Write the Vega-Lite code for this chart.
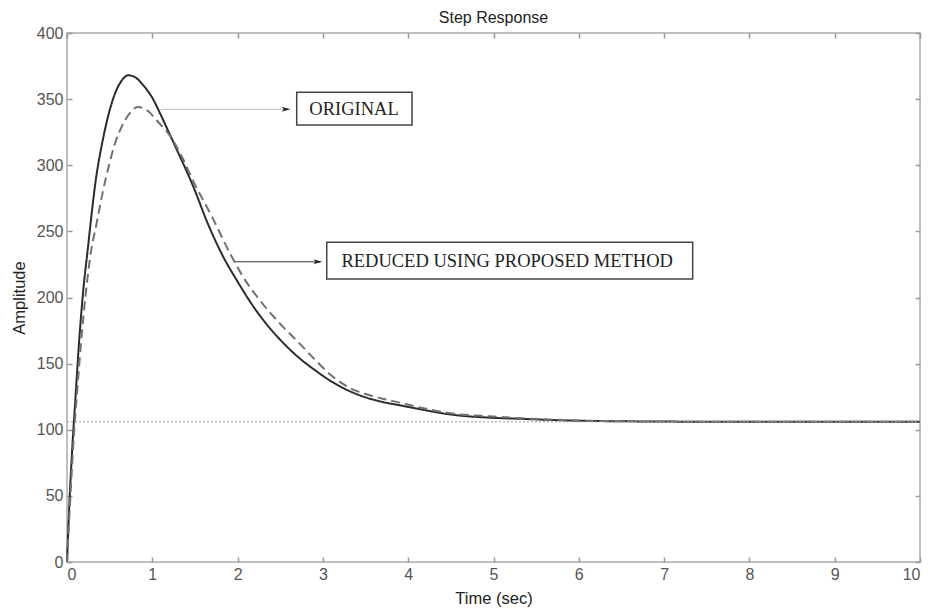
{
  "$schema": "https://vega.github.io/schema/vega-lite/v6.json",
  "width": 853,
  "height": 529,
  "autosize": "none",
  "padding": {"left": 67, "top": 33, "right": 8, "bottom": 49},
  "background": "white",
  "title": {"text": "Step Response", "font": "Liberation Sans", "fontSize": 16, "fontWeight": "normal", "color": "#222", "offset": -1},
  "config": {
    "view": {"stroke": "#aaa", "strokeWidth": 1.5},
    "axis": {
      "grid": false,
      "domain": false,
      "tickColor": "#999",
      "tickWidth": 1.5,
      "tickSize": -5,
      "labelColor": "#555",
      "labelFont": "Liberation Sans",
      "labelFontSize": 16,
      "labelPadding": 9,
      "titleFont": "Liberation Sans",
      "titleFontSize": 16.5,
      "titleFontWeight": "normal",
      "titleColor": "#222"
    }
  },
  "datasets": {
    "curves": [
      {"series": "ORIGINAL", "t": 0, "v": 0},
      {"series": "ORIGINAL", "t": 0.035, "v": 54},
      {"series": "ORIGINAL", "t": 0.07, "v": 95},
      {"series": "ORIGINAL", "t": 0.1, "v": 125},
      {"series": "ORIGINAL", "t": 0.14, "v": 165},
      {"series": "ORIGINAL", "t": 0.19, "v": 205},
      {"series": "ORIGINAL", "t": 0.246, "v": 238},
      {"series": "ORIGINAL", "t": 0.29, "v": 264},
      {"series": "ORIGINAL", "t": 0.34, "v": 290},
      {"series": "ORIGINAL", "t": 0.41, "v": 316},
      {"series": "ORIGINAL", "t": 0.47, "v": 334},
      {"series": "ORIGINAL", "t": 0.55, "v": 352},
      {"series": "ORIGINAL", "t": 0.63, "v": 363},
      {"series": "ORIGINAL", "t": 0.72, "v": 368},
      {"series": "ORIGINAL", "t": 0.8, "v": 366.5},
      {"series": "ORIGINAL", "t": 0.9, "v": 360},
      {"series": "ORIGINAL", "t": 1.0, "v": 351},
      {"series": "ORIGINAL", "t": 1.1, "v": 338},
      {"series": "ORIGINAL", "t": 1.2, "v": 324},
      {"series": "ORIGINAL", "t": 1.3, "v": 310},
      {"series": "ORIGINAL", "t": 1.48, "v": 284},
      {"series": "ORIGINAL", "t": 1.65, "v": 256},
      {"series": "ORIGINAL", "t": 1.83, "v": 231},
      {"series": "ORIGINAL", "t": 2.0, "v": 212},
      {"series": "ORIGINAL", "t": 2.145, "v": 197},
      {"series": "ORIGINAL", "t": 2.3, "v": 183},
      {"series": "ORIGINAL", "t": 2.53, "v": 166},
      {"series": "ORIGINAL", "t": 2.7, "v": 155.5},
      {"series": "ORIGINAL", "t": 2.93, "v": 144},
      {"series": "ORIGINAL", "t": 3.1, "v": 136.5},
      {"series": "ORIGINAL", "t": 3.32, "v": 129},
      {"series": "ORIGINAL", "t": 3.5, "v": 124.5},
      {"series": "ORIGINAL", "t": 3.7, "v": 121},
      {"series": "ORIGINAL", "t": 3.9, "v": 118.5},
      {"series": "ORIGINAL", "t": 4.1, "v": 116},
      {"series": "ORIGINAL", "t": 4.5, "v": 111.5},
      {"series": "ORIGINAL", "t": 5.0, "v": 109},
      {"series": "ORIGINAL", "t": 5.3, "v": 108.3},
      {"series": "ORIGINAL", "t": 6.0, "v": 106.8},
      {"series": "ORIGINAL", "t": 7.0, "v": 106.2},
      {"series": "ORIGINAL", "t": 8.0, "v": 106},
      {"series": "ORIGINAL", "t": 9.0, "v": 106},
      {"series": "ORIGINAL", "t": 10.0, "v": 106},
      {"series": "REDUCED", "t": 0, "v": 0},
      {"series": "REDUCED", "t": 0.04, "v": 50},
      {"series": "REDUCED", "t": 0.08, "v": 95},
      {"series": "REDUCED", "t": 0.12, "v": 130},
      {"series": "REDUCED", "t": 0.17, "v": 170},
      {"series": "REDUCED", "t": 0.22, "v": 203},
      {"series": "REDUCED", "t": 0.27, "v": 230},
      {"series": "REDUCED", "t": 0.35, "v": 257},
      {"series": "REDUCED", "t": 0.42, "v": 280},
      {"series": "REDUCED", "t": 0.5, "v": 302},
      {"series": "REDUCED", "t": 0.56, "v": 316},
      {"series": "REDUCED", "t": 0.64, "v": 329},
      {"series": "REDUCED", "t": 0.72, "v": 338},
      {"series": "REDUCED", "t": 0.83, "v": 344},
      {"series": "REDUCED", "t": 0.95, "v": 341},
      {"series": "REDUCED", "t": 1.05, "v": 334},
      {"series": "REDUCED", "t": 1.21, "v": 322},
      {"series": "REDUCED", "t": 1.35, "v": 306},
      {"series": "REDUCED", "t": 1.48, "v": 288},
      {"series": "REDUCED", "t": 1.7, "v": 261},
      {"series": "REDUCED", "t": 1.93, "v": 231},
      {"series": "REDUCED", "t": 2.1, "v": 212},
      {"series": "REDUCED", "t": 2.26, "v": 198},
      {"series": "REDUCED", "t": 2.53, "v": 178},
      {"series": "REDUCED", "t": 2.7, "v": 167},
      {"series": "REDUCED", "t": 2.93, "v": 151.5},
      {"series": "REDUCED", "t": 3.1, "v": 141},
      {"series": "REDUCED", "t": 3.32, "v": 131.5},
      {"series": "REDUCED", "t": 3.5, "v": 127},
      {"series": "REDUCED", "t": 3.7, "v": 123.5},
      {"series": "REDUCED", "t": 3.9, "v": 120.5},
      {"series": "REDUCED", "t": 4.1, "v": 117.4},
      {"series": "REDUCED", "t": 4.5, "v": 112.4},
      {"series": "REDUCED", "t": 5.0, "v": 110},
      {"series": "REDUCED", "t": 5.3, "v": 108.8},
      {"series": "REDUCED", "t": 6.0, "v": 107},
      {"series": "REDUCED", "t": 7.0, "v": 106.2},
      {"series": "REDUCED", "t": 8.0, "v": 106},
      {"series": "REDUCED", "t": 9.0, "v": 106},
      {"series": "REDUCED", "t": 10.0, "v": 106}
    ],
    "steady": [
      {"t": 0, "v": 106},
      {"t": 10, "v": 106}
    ],
    "pointers": [
      {"id": 1, "t": 1.09, "t2": 2.6, "v": 342.3},
      {"id": 2, "t": 1.97, "t2": 2.97, "v": 227}
    ],
    "heads": [
      {"id": 1, "t": 2.567, "v": 342.3},
      {"id": 2, "t": 2.94, "v": 227}
    ],
    "boxes": [
      {"label": "ORIGINAL", "t": 2.693, "t2": 4.045, "v": 355.2, "v2": 330.4, "tx": 3.365, "ty": 342.5},
      {"label": "REDUCED USING PROPOSED METHOD", "t": 3.045, "t2": 7.335, "v": 241.7, "v2": 214, "tx": 5.16, "ty": 227.6}
    ]
  },
  "layer": [
    {
      "data": {"name": "curves"},
      "mark": {"type": "line", "strokeWidth": 2, "interpolate": "monotone"},
      "encoding": {
        "x": {
          "field": "t", "type": "quantitative",
          "scale": {"domain": [0, 10], "nice": false, "zero": false},
          "axis": {"orient": "bottom", "title": "Time (sec)", "values": [0,1,2,3,4,5,6,7,8,9,10], "titlePadding": 8}
        },
        "y": {
          "field": "v", "type": "quantitative",
          "scale": {"domain": [0, 400], "nice": false},
          "axis": {"orient": "left", "title": "Amplitude", "values": [0,50,100,150,200,250,300,350,400], "titlePadding": 9}
        },
        "color": {"field": "series", "type": "nominal", "scale": {"domain": ["ORIGINAL", "REDUCED"], "range": ["#2b2b2b", "#707070"]}, "legend": null},
        "strokeDash": {"field": "series", "type": "nominal", "scale": {"domain": ["ORIGINAL", "REDUCED"], "range": [[1, 0], [9, 5]]}, "legend": null}
      }
    },
    {
      "data": {"name": "steady"},
      "mark": {"type": "line", "strokeWidth": 1, "strokeDash": [2, 2], "color": "#999"},
      "encoding": {
        "x": {"field": "t", "type": "quantitative", "axis": {"orient": "top", "labels": false, "title": null, "values": [0,1,2,3,4,5,6,7,8,9,10]}},
        "y": {"field": "v", "type": "quantitative", "axis": {"orient": "right", "labels": false, "title": null, "values": [0,50,100,150,200,250,300,350,400]}}
      }
    },
    {
      "data": {"name": "pointers"},
      "transform": [{"filter": "datum.id == 1"}],
      "mark": {"type": "rule", "strokeWidth": 1, "color": "#bbb"},
      "encoding": {
        "x": {"field": "t", "type": "quantitative", "axis": null},
        "x2": {"field": "t2"},
        "y": {"field": "v", "type": "quantitative", "axis": null}
      }
    },
    {
      "data": {"name": "pointers"},
      "transform": [{"filter": "datum.id == 2"}],
      "mark": {"type": "rule", "strokeWidth": 1, "color": "#333"},
      "encoding": {
        "x": {"field": "t", "type": "quantitative", "axis": null},
        "x2": {"field": "t2"},
        "y": {"field": "v", "type": "quantitative", "axis": null}
      }
    },
    {
      "data": {"name": "heads"},
      "mark": {"type": "point", "shape": "M-1,-0.55L1,0L-1,0.55L-0.45,0Z", "filled": true, "color": "#222", "opacity": 1, "size": 80},
      "encoding": {
        "x": {"field": "t", "type": "quantitative", "axis": null},
        "y": {"field": "v", "type": "quantitative", "axis": null}
      }
    },
    {
      "data": {"name": "boxes"},
      "mark": {"type": "rect", "fill": "white", "stroke": "#444", "strokeWidth": 1.5},
      "encoding": {
        "x": {"field": "t", "type": "quantitative", "axis": null},
        "x2": {"field": "t2"},
        "y": {"field": "v", "type": "quantitative", "axis": null},
        "y2": {"field": "v2"}
      }
    },
    {
      "data": {"name": "boxes"},
      "mark": {"type": "text", "font": "Liberation Serif", "fontSize": 18.5, "color": "#222", "align": "center", "baseline": "middle"},
      "encoding": {
        "x": {"field": "tx", "type": "quantitative", "axis": null},
        "y": {"field": "ty", "type": "quantitative", "axis": null},
        "text": {"field": "label", "type": "nominal"}
      }
    }
  ],
  "resolve": {"axis": {"x": "independent", "y": "independent"}}
}
